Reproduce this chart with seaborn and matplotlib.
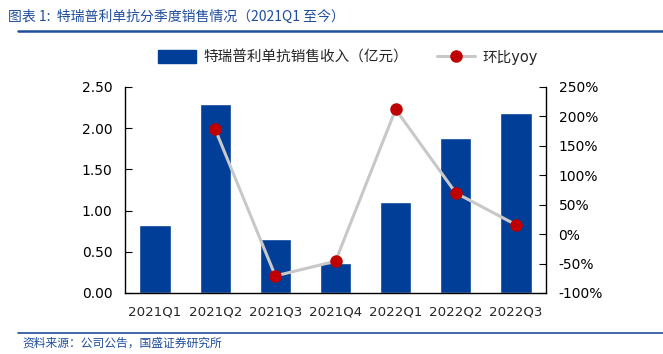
import numpy as np
import pandas as pd
import seaborn as sns
import matplotlib
matplotlib.use("Agg")
from matplotlib import pyplot as plt
from matplotlib.lines import Line2D
from matplotlib.patches import Patch
from matplotlib.ticker import FuncFormatter, FixedLocator

quarters = ["2021Q1", "2021Q2", "2021Q3", "2021Q4", "2022Q1", "2022Q2", "2022Q3"]
sales = [0.83, 2.29, 0.66, 0.36, 1.10, 1.88, 2.18]          # 亿元
yoy = [np.nan, 178, -71, -46, 212, 70, 16]                  # %

bar_label = "特瑞普利单抗销售收入（亿元）"
line_label = "环比yoy"
title = "图表 1:  特瑞普利单抗分季度销售情况（2021Q1 至今）"
source = "资料来源：公司公告，国盛证券研究所"

BLUE = "#003E97"
GREY = "#C8C8C8"
RED = "#C00000"
HEAD = "#1F4E9A"

sns.set_style("white")
plt.rcParams["font.family"] = ["DejaVu Sans", "Noto Sans CJK SC"]

data = pd.DataFrame({"quarter": quarters, "sales": sales, "yoy": yoy})

fig = plt.figure(figsize=(6.63, 3.54), dpi=100)
ax = fig.add_axes([125 / 663, 1 - 293 / 354, 421 / 663, 206 / 354])

sns.barplot(data, x="quarter", y="sales", color=BLUE, width=0.52, saturation=1, ax=ax)
ax.set_ylim(0, 2.5)
ax.set_yticks(np.arange(0, 2.51, 0.5))
ax.yaxis.set_major_formatter(FuncFormatter(lambda v, _: f"{v:.2f}"))
ax.set_xlim(-0.5, len(quarters) - 0.5)
ax.set_xlabel(None)
ax.set_ylabel(None)

ax2 = ax.twinx()
ax2.plot(np.arange(len(quarters)), data["yoy"], color=GREY, linewidth=2.2,
         marker="o", markersize=8, markerfacecolor=RED, markeredgecolor=RED, zorder=3)
ax2.set_ylim(-100, 250)
ax2.set_yticks(np.arange(-100, 251, 50))
ax2.yaxis.set_major_formatter(FuncFormatter(lambda v, _: f"{v:.0f}%"))

for a in (ax, ax2):
    a.spines["top"].set_visible(False)
    for s in a.spines.values():
        s.set_color("black")
        s.set_linewidth(1)
ax.spines["right"].set_visible(False)
ax2.spines["left"].set_visible(False)
ax2.spines["bottom"].set_visible(False)

ax.tick_params(axis="y", direction="in", length=5, labelsize=10, pad=9, colors="black")
ax2.tick_params(axis="y", direction="in", length=5, labelsize=10, pad=9, colors="black")
# category ticks sit between the bars
ax.tick_params(axis="x", which="major", length=0, labelsize=9.6, pad=9)
ax.xaxis.set_minor_locator(FixedLocator(np.arange(0.5, len(quarters) - 1, 1)))
ax.tick_params(axis="x", which="minor", direction="in", length=4, color="black")

handles = [Patch(facecolor=BLUE, edgecolor=BLUE),
           Line2D([], [], color=GREY, linewidth=2.2, marker="o", markersize=8,
                  markerfacecolor=RED, markeredgecolor=RED)]
fig.legend(handles, [bar_label, line_label], loc="center", bbox_to_anchor=(0.525, 1 - 57 / 354),
           ncol=2, frameon=False, fontsize=10.5, handlelength=2.6, handleheight=0.9,
           columnspacing=2.0, handletextpad=0.5)

fig.text(8 / 663, 1 - 17 / 354, title, color=HEAD, fontsize=10, style="italic",
         va="center", ha="left", family=["Noto Sans CJK SC", "DejaVu Sans"])
fig.add_artist(Line2D([18 / 663, 1], [1 - 31 / 354] * 2, color=HEAD, linewidth=1.8))
fig.add_artist(Line2D([18 / 663, 1], [1 - 333 / 354] * 2, color=HEAD, linewidth=1.2))
fig.text(22 / 663, 1 - 343 / 354, source, color=HEAD, fontsize=8.5, style="italic",
         va="center", ha="left", family=["Noto Sans CJK SC", "DejaVu Sans"])

fig.savefig("out.png", dpi=100)
